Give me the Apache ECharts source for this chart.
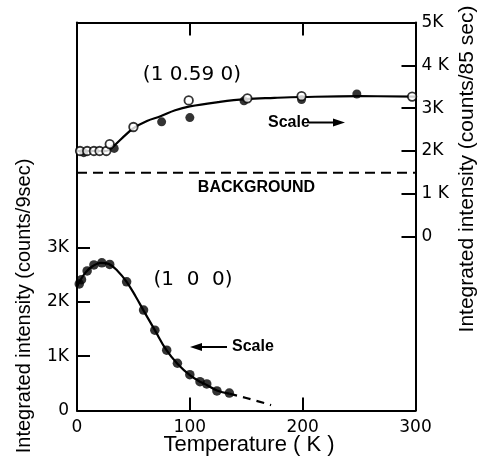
<!DOCTYPE html>
<html>
<head>
<meta charset="utf-8">
<script src="https://cdn.jsdelivr.net/npm/echarts@6/dist/echarts.min.js"></script>
<style>
html,body{margin:0;padding:0;background:#fff;}
#chart{width:480px;height:461px;}
</style>
</head>
<body>
<div id="chart"></div>
<script>
// ---- Data (temperature in K, intensity in counts) ----
// Upper panel (1 0.59 0), right axis (counts/85 sec)
var upperOpenT   = [2.7, 9, 15, 20, 26, 29, 50, 99, 151, 199, 297];
var upperOpenV   = [2000, 2000, 2000, 2000, 2000, 2160, 2560, 3180, 3230, 3280, 3270];
var upperFilledT = [6, 33, 75, 100, 148, 199, 248];
var upperFilledV = [1960, 2060, 2680, 2780, 3170, 3200, 3330];
var upperCurveT  = [0, 15, 26, 32, 40, 50, 62, 74, 87, 100, 125, 149, 175, 199, 250, 300];
var upperCurveV  = [2000, 2000, 2000, 2100, 2300, 2530, 2700, 2810, 2950, 3040, 3140, 3210, 3240, 3260, 3280, 3270];
var backgroundT  = [0, 300];
var backgroundV  = [1490, 1490];

// Lower panel (1 0 0), left axis (counts/9 sec)
var lowerT = [2, 4, 9, 15, 22, 29, 44, 59, 69, 79.5, 89, 100, 109, 115, 124, 135];
var lowerV = [2330, 2410, 2570, 2680, 2720, 2690, 2370, 1850, 1480, 1110, 870, 660, 530, 490, 360, 320];
var lowerCurveT = [0, 3, 8, 14, 21, 28, 36, 44, 52, 59, 69, 79, 89, 100, 110, 115, 124, 135];
var lowerCurveV = [2280, 2400, 2550, 2660, 2720, 2700, 2570, 2370, 2100, 1840, 1480, 1120, 860, 650, 520, 470, 370, 310];
var lowerDashT = [135, 150, 172];
var lowerDashV = [310, 230, 100];

// Tick labels
var xTicks = [0, 100, 200, 300];
var leftTickVals = [0, 1000, 2000, 3000];
var leftTickText = ['0', '1K', '2K', '3K'];
var rightTickVals = [0, 1000, 2000, 3000, 4000, 5000];
var rightTickText = ['0', '1 K', '2K', '3K', '4 K', '5K'];

function pairs(a, b) { return a.map(function (v, i) { return [v, b[i]]; }); }

var chart = echarts.init(document.getElementById('chart'), null, {renderer: 'canvas'});
var tickFont = 'DejaVu Sans';
var lineCol = '#000';

var option = {
  backgroundColor: '#fff',
  animation: false,
  grid: {left: 77, right: 64.5, top: 22.5, bottom: 50.5, containLabel: false},
  xAxis: [{
    type: 'value', min: 0, max: 300, interval: 100, position: 'bottom',
    axisLine: {show: true, onZero: false, lineStyle: {color: lineCol, width: 2}},
    axisTick: {show: true, inside: true, length: 13, lineStyle: {color: lineCol, width: 2}},
    axisLabel: {show: true, margin: 9, color: '#000', fontFamily: tickFont, fontSize: 17,
      showMinLabel: true, showMaxLabel: true,
      formatter: function (v) { return xTicks.indexOf(v) >= 0 ? String(v) : ''; }},
    splitLine: {show: false}
  }, {
    type: 'value', min: 0, max: 300, interval: 100, position: 'top',
    axisLine: {show: true, onZero: false, lineStyle: {color: lineCol, width: 2}},
    axisTick: {show: true, inside: true, length: 13, lineStyle: {color: lineCol, width: 2}},
    axisLabel: {show: false},
    splitLine: {show: false}
  }],
  yAxis: [{
    type: 'value', min: 0, max: 7145, position: 'left',
    axisLine: {show: true, onZero: false, lineStyle: {color: lineCol, width: 2}},
    axisTick: {show: true, inside: true, length: 13, customValues: [1000, 2000, 3000],
      lineStyle: {color: lineCol, width: 2}},
    axisLabel: {show: true, margin: 8, color: '#000', fontFamily: tickFont, fontSize: 17,
      customValues: leftTickVals,
      formatter: function (v) { var i = leftTickVals.indexOf(v); return i >= 0 ? leftTickText[i] : ''; }},
    splitLine: {show: false}
  }, {
    type: 'value', min: -4060, max: 5000, position: 'right',
    axisLine: {show: true, onZero: false, lineStyle: {color: lineCol, width: 2}},
    axisTick: {show: true, inside: true, length: 14, customValues: [0, 1000, 2000, 3000, 4000],
      lineStyle: {color: lineCol, width: 2}},
    axisLabel: {show: true, margin: 6, color: '#000', fontFamily: tickFont, fontSize: 17,
      customValues: rightTickVals,
      formatter: function (v) { var i = rightTickVals.indexOf(v); return i >= 0 ? rightTickText[i] : ''; }},
    splitLine: {show: false}
  }],
  series: [
    {type: 'line', xAxisIndex: 0, yAxisIndex: 1, data: pairs(backgroundT, backgroundV),
      showSymbol: false, symbol: 'none', lineStyle: {color: '#000', width: 2, type: [10, 6]}, z: 2},
    {type: 'line', xAxisIndex: 0, yAxisIndex: 1, data: pairs(upperCurveT, upperCurveV),
      smooth: 0.4, showSymbol: false, symbol: 'none', lineStyle: {color: '#000', width: 2.2}, z: 3},
    {type: 'scatter', xAxisIndex: 0, yAxisIndex: 1, data: pairs(upperFilledT, upperFilledV),
      symbol: 'circle', symbolSize: 9, itemStyle: {color: '#000'}, z: 4},
    {type: 'scatter', xAxisIndex: 0, yAxisIndex: 1, data: pairs(upperOpenT, upperOpenV),
      symbol: 'circle', symbolSize: 8.5, itemStyle: {color: '#fff', borderColor: '#000', borderWidth: 1.8}, z: 5},
    {type: 'line', xAxisIndex: 0, yAxisIndex: 0, data: pairs(lowerCurveT, lowerCurveV),
      smooth: 0.4, showSymbol: false, symbol: 'none', lineStyle: {color: '#000', width: 2.2}, z: 3},
    {type: 'line', xAxisIndex: 0, yAxisIndex: 0, data: pairs(lowerDashT, lowerDashV),
      smooth: 0.4, showSymbol: false, symbol: 'none', lineStyle: {color: '#000', width: 2.2, type: [8, 6]}, z: 3},
    {type: 'scatter', xAxisIndex: 0, yAxisIndex: 0, data: pairs(lowerT, lowerV),
      symbol: 'circle', symbolSize: 9.5, itemStyle: {color: '#000'}, z: 4}
  ],
  graphic: [
    {type: 'text', x: 192, y: 75, style: {text: '(1 0.59 0)', font: '20px "DejaVu Sans"', fill: '#000', textAlign: 'center', textVerticalAlign: 'middle'}},
    {type: 'text', x: 193, y: 280, style: {text: '(1  0  0)', font: '20px "DejaVu Sans"', fill: '#000', textAlign: 'center', textVerticalAlign: 'middle'}},
    {type: 'text', x: 268, y: 122.5, style: {text: 'Scale', font: 'bold 16px "Liberation Sans Narrow", "Liberation Sans", Arial', fill: '#000', textAlign: 'left', textVerticalAlign: 'middle'}},
    {type: 'line', shape: {x1: 309, y1: 122.5, x2: 335, y2: 122.5}, style: {stroke: '#000', lineWidth: 2}},
    {type: 'polygon', shape: {points: [[333, 118.5], [345, 122.5], [333, 126.5]]}, style: {fill: '#000'}},
    {type: 'text', x: 232, y: 347, style: {text: 'Scale', font: 'bold 16px "Liberation Sans Narrow", "Liberation Sans", Arial', fill: '#000', textAlign: 'left', textVerticalAlign: 'middle'}},
    {type: 'line', shape: {x1: 200, y1: 347, x2: 227, y2: 347}, style: {stroke: '#000', lineWidth: 2}},
    {type: 'polygon', shape: {points: [[190, 347], [202, 343], [202, 351]]}, style: {fill: '#000'}},
    {type: 'text', x: 256.5, y: 188, style: {text: 'BACKGROUND', font: 'bold 16px "Liberation Sans Narrow", "Liberation Sans", Arial', fill: '#000', textAlign: 'center', textVerticalAlign: 'middle'}},
    {type: 'text', x: 24, y: 306, rotation: Math.PI / 2, style: {text: 'Integrated intensity (counts/9sec)', font: '20px "Liberation Sans", Arial', fill: '#000', textAlign: 'center', textVerticalAlign: 'middle'}},
    {type: 'text', x: 467, y: 169, rotation: Math.PI / 2, style: {text: 'Integrated intensity (counts/85 sec)', font: '21px "Liberation Sans", Arial', fill: '#000', textAlign: 'center', textVerticalAlign: 'middle'}},
    {type: 'text', x: 249, y: 445, style: {text: 'Temperature ( K )', font: '22px "Liberation Sans", Arial', fill: '#000', textAlign: 'center', textVerticalAlign: 'middle'}}
  ]
};
chart.setOption(option);
</script>
</body>
</html>
